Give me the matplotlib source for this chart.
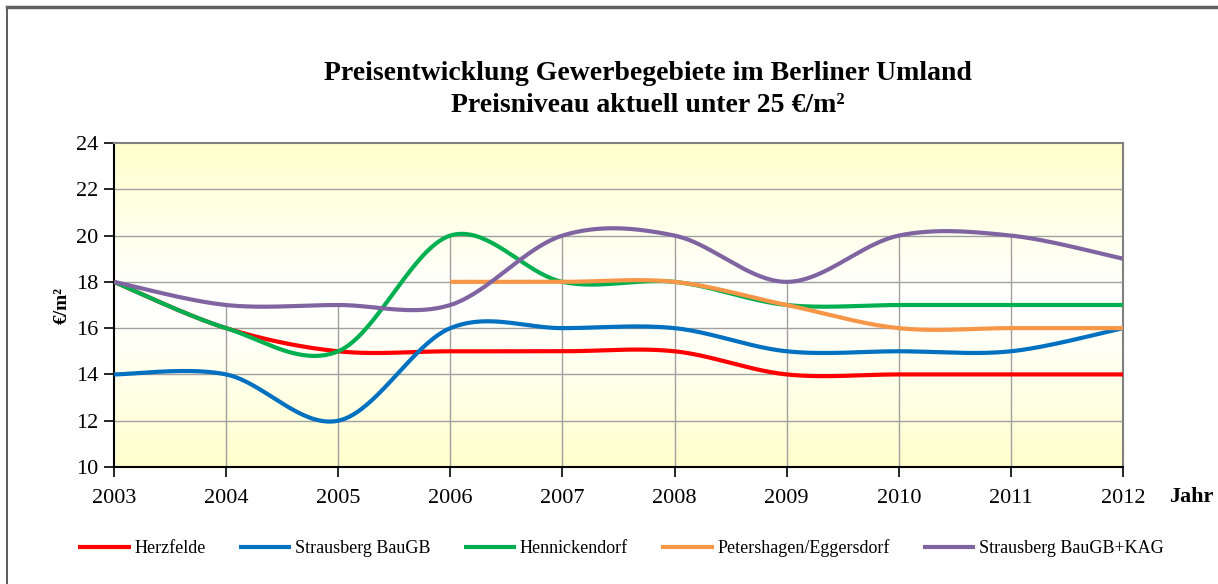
import numpy as np
import matplotlib.pyplot as plt
from matplotlib.patches import Rectangle

plt.rcParams['font.family'] = ['Liberation Serif', 'DejaVu Serif']

# Daten
jahre = [2003, 2004, 2005, 2006, 2007, 2008, 2009, 2010, 2011, 2012]
herzfelde = [18, 16, 15, 15, 15, 15, 14, 14, 14, 14]
strausberg_baugb = [14, 14, 12, 16, 16, 16, 15, 15, 15, 16]
hennickendorf = [18, 16, 15, 20, 18, 18, 17, 17, 17, 17]
petershagen = [np.nan, np.nan, np.nan, 18, 18, 18, 17, 16, 16, 16]
strausberg_kag = [18, 17, 17, 17, 20, 20, 18, 20, 20, 19]

namen = ['Herzfelde', 'Strausberg BauGB', 'Hennickendorf',
         'Petershagen/Eggersdorf', 'Strausberg BauGB+KAG']
reihen = [herzfelde, strausberg_baugb, hennickendorf, petershagen, strausberg_kag]
farben = ['#FF0000', '#0070C0', '#00B050', '#F79646', '#8064A2']


def glatt(x, y, n=40):
    # Excel-artige Glaettung (Catmull-Rom als Bezier)
    x = np.asarray(x, float)
    y = np.asarray(y, float)
    ok = ~np.isnan(y)
    x, y = x[ok], y[ok]
    P = np.column_stack([x, y])
    t = np.linspace(0, 1, n)[:, None]
    teile = []
    for i in range(len(P) - 1):
        p0 = P[i - 1] if i > 0 else P[i]
        p1, p2 = P[i], P[i + 1]
        p3 = P[i + 2] if i + 2 < len(P) else P[i + 1]
        c1 = p1 + (p2 - p0) / 6
        c2 = p2 - (p3 - p1) / 6
        b = ((1 - t) ** 3 * p1 + 3 * (1 - t) ** 2 * t * c1
             + 3 * (1 - t) * t ** 2 * c2 + t ** 3 * p2)
        teile.append(b)
    b = np.vstack(teile)
    return b[:, 0], b[:, 1]


W, H = 1218, 584
fig = plt.figure(figsize=(W / 100, H / 100), dpi=100)
ax = fig.add_axes([114 / W, 1 - 467 / H, (1123 - 114) / W, (467 - 143) / H])

# Rahmen um das Diagramm
fig.patches.append(Rectangle((7 / W, -0.1), 1.2, 1 - 7 / H + 0.1, transform=fig.transFigure,
                             fill=False, edgecolor='#404040', linewidth=1.2))
fig.add_artist(plt.Line2D([7 / W, 1], [1 - 7 / H, 1 - 7 / H], transform=fig.transFigure,
                          color='#606060', linewidth=2.5))

# Hintergrund-Verlauf gelb-weiss-gelb
v = np.abs(np.linspace(-1, 1, 200))[:, None]
gelb = np.array([1.0, 1.0, 0.8])
bild = 1 - (1 - gelb)[None, None, :] * v[:, :, None] ** 1.2
ax.imshow(bild, extent=[2003, 2012, 10, 24], aspect='auto', zorder=0)

# Gitter
for yy in range(12, 24, 2):
    ax.axhline(yy, color='#A0A0A0', linewidth=1.0, zorder=1)

# Lotlinien bis zum hoechsten Punkt
maxima = np.nanmax(np.array(reihen, float), axis=0)
ax.vlines(jahre[1:-1], 10, maxima[1:-1], color='#A0A0A0', linewidth=1.0, zorder=1)

for name, werte, farbe in zip(namen, reihen, farben):
    xs, ys = glatt(jahre, werte)
    ax.plot(xs, ys, color=farbe, linewidth=3, label=name, zorder=3,
            solid_capstyle='butt')

ax.set_xlim(2003, 2012)
ax.set_ylim(10, 24)
ax.set_xticks(jahre)
ax.set_yticks(range(10, 25, 2))
ax.tick_params(axis='both', direction='out', length=7, width=1.2, labelsize=16,
               color='black')
ax.tick_params(axis='x', pad=9)
ax.tick_params(axis='y', pad=4)

for s in ['left', 'bottom']:
    ax.spines[s].set_color('black')
    ax.spines[s].set_linewidth(1.5)
for s in ['top', 'right']:
    ax.spines[s].set_color('#808080')
    ax.spines[s].set_linewidth(1.5)

ax.set_ylabel('€/m²', fontsize=14, fontweight='bold', labelpad=4)
fig.text(1191 / W, 1 - 497 / H, 'Jahr', fontsize=16, fontweight='bold',
         ha='center', va='center')

fig.text(648 / W, 1 - 74 / H, 'Preisentwicklung Gewerbegebiete im Berliner Umland',
         fontsize=20, fontweight='bold', ha='center', va='center')
fig.text(648 / W, 1 - 106 / H, 'Preisniveau aktuell unter 25 €/m²',
         fontsize=20, fontweight='bold', ha='center', va='center')

fig.legend(loc='center', bbox_to_anchor=(621 / W, 1 - 548 / H), ncol=5, frameon=False,
           fontsize=13, handlelength=2.9, handletextpad=0.2, columnspacing=1.85)

fig.savefig('out.png', dpi=100)
